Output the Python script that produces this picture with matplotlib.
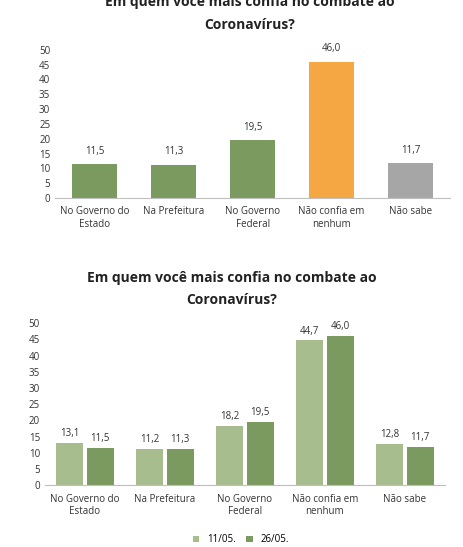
import matplotlib.pyplot as plt
import numpy as np

plt.rcParams['font.family'] = ['Open Sans', 'DejaVu Sans']

categories = ['No Governo do\nEstado', 'Na Prefeitura', 'No Governo\nFederal',
              'Não confia em\nnenhum', 'Não sabe']
top_values = [11.5, 11.3, 19.5, 46.0, 11.7]
series_1105 = [13.1, 11.2, 18.2, 44.7, 12.8]
series_2605 = [11.5, 11.3, 19.5, 46.0, 11.7]
series_names = ['11/05.', '26/05.']

green = '#7b9a5f'
light_green = '#a8bd8e'
orange = '#f4a742'
gray = '#a6a6a6'
top_colors = [green, green, green, orange, gray]

fig = plt.figure(figsize=(4.63, 5.47), dpi=100)
fig.patch.set_facecolor('white')


def style(ax):
    for s in ['top', 'right', 'left']:
        ax.spines[s].set_visible(False)
    ax.spines['bottom'].set_color('#bfbfbf')
    ax.set_ylim(0, 50)
    ax.set_yticks(range(0, 51, 5))
    ax.tick_params(axis='y', length=0, labelsize=7, colors='#333333')
    ax.tick_params(axis='x', length=0, labelsize=7, colors='#333333', pad=6)


# top chart
ax1 = fig.add_axes([0.119, 0.638, 0.853, 0.271])
x = np.arange(len(categories))
bars = ax1.bar(x, top_values, width=0.57, color=top_colors)
for b, v in zip(bars, top_values):
    ax1.text(b.get_x() + b.get_width() / 2, v + 2.5, f'{v:.1f}'.replace('.', ','),
             ha='center', va='bottom', fontsize=7, color='#333333')
ax1.set_xticks(x)
ax1.set_xticklabels(categories)
ax1.set_xlim(-0.5, 4.5)
style(ax1)
fig.text(0.54, 0.997, 'Em quem você mais confia no combate ao', ha='center', va='center',
         fontsize=10, fontweight='bold', color='#222222')
fig.text(0.54, 0.955, 'Coronavírus?', ha='center', va='center',
         fontsize=10, fontweight='bold', color='#222222')

# bottom chart
ax2 = fig.add_axes([0.097, 0.113, 0.864, 0.296])
w = 0.34
b1 = ax2.bar(x - w / 2 - 0.02, series_1105, width=w, color=light_green, label=series_names[0])
b2 = ax2.bar(x + w / 2 + 0.02, series_2605, width=w, color=green, label=series_names[1])
for bs, vals in [(b1, series_1105), (b2, series_2605)]:
    for b, v in zip(bs, vals):
        ax2.text(b.get_x() + b.get_width() / 2, v + 1.2, f'{v:.1f}'.replace('.', ','),
                 ha='center', va='bottom', fontsize=7, color='#333333')
ax2.set_xticks(x)
ax2.set_xticklabels(categories)
ax2.set_xlim(-0.5, 4.5)
style(ax2)
fig.text(0.5, 0.492, 'Em quem você mais confia no combate ao', ha='center', va='center',
         fontsize=10, fontweight='bold', color='#222222')
fig.text(0.5, 0.452, 'Coronavírus?', ha='center', va='center',
         fontsize=10, fontweight='bold', color='#222222')
fig.legend(handles=[b1, b2], loc='center', bbox_to_anchor=(0.52, 0.013), ncol=2,
           frameon=False, fontsize=7, handlelength=0.7, handleheight=0.7, columnspacing=1.0)

fig.savefig('out.png', dpi=100)
